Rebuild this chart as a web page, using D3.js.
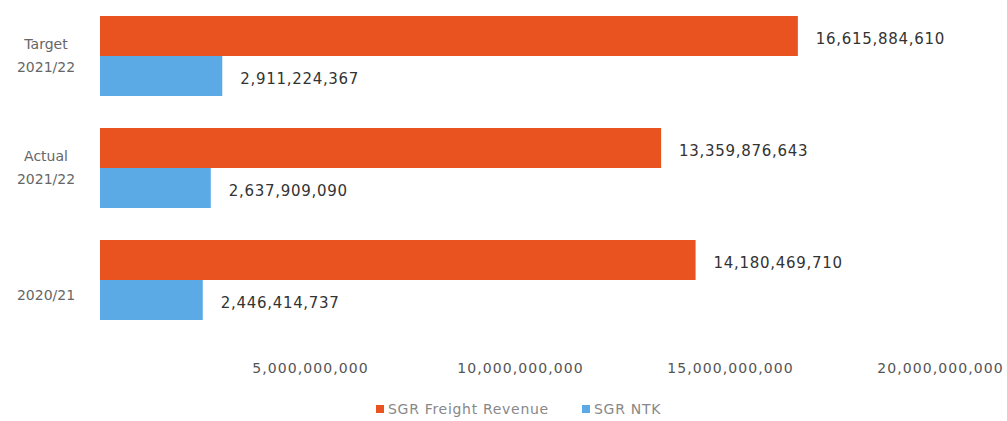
<!DOCTYPE html>
<html><head><meta charset="utf-8">
<script src="https://cdn.jsdelivr.net/npm/d3@7"></script>
<style>
body{margin:0;background:#fff;}
svg{display:block;}
</style></head>
<body>
<svg id="chart" width="1007" height="421"></svg>
<script>
const categories = ["Target 2021/22", "Actual 2021/22", "2020/21"];
const categoryLines = [["Target", "2021/22"], ["Actual", "2021/22"], ["2020/21"]];
const seriesNames = ["SGR Freight Revenue", "SGR NTK"];
const freightRevenue = [16615884610, 13359876643, 14180469710];
const ntk = [2911224367, 2637909090, 2446414737];
const tickValues = [5000000000, 10000000000, 15000000000, 20000000000];
const colors = ["#E8531F", "#5BAAE6"];

const svg = d3.select("#chart");
const x = d3.scaleLinear().domain([0, 20000000000]).range([100, 940]);
const y = d3.scaleBand().domain(categories).range([16, 320]).paddingInner(32/112).paddingOuter(0);
const ySub = d3.scaleBand().domain(seriesNames).range([0, y.bandwidth()]).padding(0);
const fmt = d3.format(",");

const data = categories.map((c, i) => ({cat: c, vals: [freightRevenue[i], ntk[i]]}));

const groups = svg.selectAll("g.grp").data(data).join("g")
  .attr("class", "grp")
  .attr("transform", d => `translate(0,${y(d.cat)})`);

groups.selectAll("rect").data(d => d.vals.map((v, j) => ({v, s: seriesNames[j], j})))
  .join("rect")
  .attr("x", x(0))
  .attr("y", d => ySub(d.s))
  .attr("width", d => x(d.v) - x(0))
  .attr("height", ySub.bandwidth())
  .attr("fill", d => colors[d.j]);

groups.selectAll("text.val").data(d => d.vals.map((v, j) => ({v, s: seriesNames[j], j})))
  .join("text")
  .attr("class", "val")
  .attr("x", d => x(d.v) + 18)
  .attr("y", d => ySub(d.s) + ySub.bandwidth() / 2 + 3)
  .attr("dominant-baseline", "middle")
  .attr("font-family", "DejaVu Sans, sans-serif")
  .attr("font-size", 15)
  .attr("letter-spacing", 0.7)
  .attr("fill", "#333")
  .text(d => fmt(d.v));

// category labels
categories.forEach((c, i) => {
  const lines = categoryLines[i];
  const cy = y(c) + y.bandwidth() / 2 + (lines.length === 1 ? 16 : 0);
  const t = svg.append("text")
    .attr("x", 46)
    .attr("text-anchor", "middle")
    .attr("font-family", "DejaVu Sans, sans-serif")
    .attr("font-size", 14)
    .attr("fill", "#666");
  lines.forEach((ln, k) => {
    t.append("tspan")
      .attr("x", 46)
      .attr("y", cy + (k - (lines.length - 1) / 2) * 23)
      .attr("dominant-baseline", "middle")
      .text(ln);
  });
});

// x axis
const axis = d3.axisBottom(x).tickValues(tickValues).tickFormat(fmt).tickSize(0).tickPadding(0);
const ag = svg.append("g").attr("transform", "translate(0,363)").call(axis);
ag.select(".domain").remove();
ag.selectAll("text")
  .attr("font-family", "DejaVu Sans, sans-serif")
  .attr("font-size", 14)
  .attr("letter-spacing", 1.1)
  .attr("fill", "#555");

// legend
const legend = svg.append("g").attr("transform", "translate(376,410)");
const legX = [0, 206];
seriesNames.forEach((s, i) => {
  const g = legend.append("g").attr("transform", `translate(${legX[i]},0)`);
  g.append("rect").attr("x", 0).attr("y", -5).attr("width", 8).attr("height", 8).attr("fill", colors[i]);
  g.append("text").attr("x", 12).attr("y", 0).attr("dominant-baseline", "middle")
    .attr("font-family", "DejaVu Sans, sans-serif").attr("font-size", 14)
    .attr("letter-spacing", 0.7)
    .attr("fill", "#888").text(s);
});
</script>
</body></html>
